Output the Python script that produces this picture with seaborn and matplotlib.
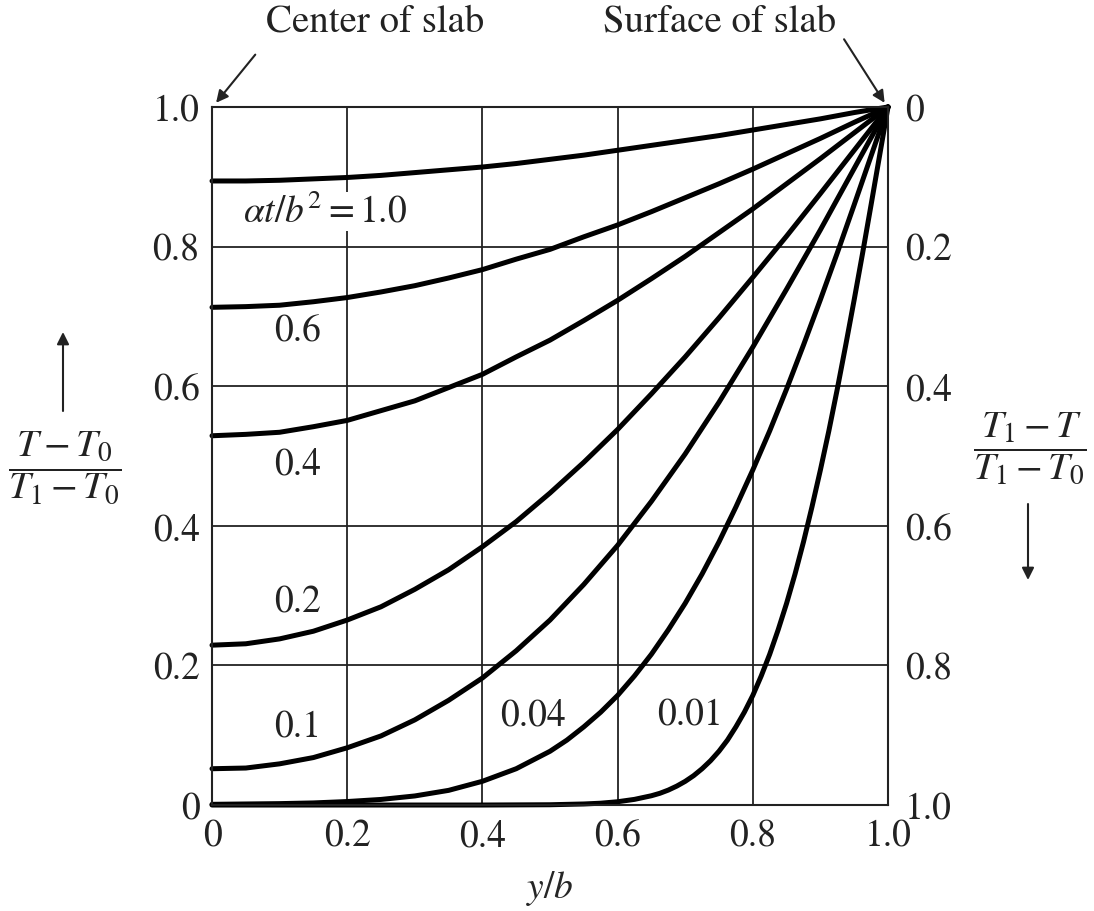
import numpy as np
import pandas as pd
import matplotlib
matplotlib.use("Agg")
import matplotlib.pyplot as plt
import seaborn as sns

# values: y/b positions and (T - T0)/(T1 - T0) for each alpha*t/b^2
eta = [0.0, 0.05, 0.1, 0.15, 0.2, 0.25, 0.3, 0.35, 0.4, 0.45, 0.5,
       0.55, 0.6, 0.65, 0.7, 0.75, 0.8, 0.85, 0.9, 0.95, 1.0]
theta_100 = [0.894, 0.894, 0.895, 0.897, 0.899, 0.902, 0.906, 0.910, 0.914, 0.919, 0.925,
             0.931, 0.938, 0.945, 0.952, 0.959, 0.967, 0.975, 0.983, 0.992, 1.0]
theta_060 = [0.713, 0.714, 0.716, 0.721, 0.727, 0.735, 0.744, 0.755, 0.767, 0.782, 0.796,
             0.814, 0.831, 0.850, 0.870, 0.890, 0.911, 0.933, 0.955, 0.978, 1.0]
theta_040 = [0.529, 0.531, 0.534, 0.542, 0.551, 0.565, 0.579, 0.598, 0.617, 0.642, 0.666,
             0.694, 0.723, 0.754, 0.786, 0.820, 0.854, 0.890, 0.926, 0.963, 1.0]
theta_020 = [0.229, 0.231, 0.238, 0.249, 0.265, 0.284, 0.309, 0.337, 0.370, 0.406, 0.447,
             0.491, 0.538, 0.589, 0.642, 0.698, 0.756, 0.815, 0.876, 0.938, 1.0]
theta_010 = [0.052, 0.053, 0.059, 0.068, 0.082, 0.099, 0.122, 0.150, 0.182, 0.221, 0.265,
             0.316, 0.372, 0.435, 0.503, 0.577, 0.656, 0.739, 0.824, 0.912, 1.0]

eta_004 = [0.0, 0.1, 0.15, 0.2, 0.25, 0.3, 0.35, 0.4, 0.45, 0.5, 0.525, 0.55, 0.575, 0.6,
           0.625, 0.65, 0.675, 0.7, 0.725, 0.75, 0.775, 0.8, 0.825, 0.85, 0.875, 0.9,
           0.925, 0.95, 0.975, 1.0]
theta_004 = [0.001, 0.002, 0.003, 0.005, 0.008, 0.013, 0.021, 0.034, 0.052, 0.077, 0.093,
             0.112, 0.133, 0.157, 0.185, 0.216, 0.251, 0.289, 0.331, 0.377, 0.427, 0.480,
             0.536, 0.596, 0.659, 0.724, 0.791, 0.860, 0.930, 1.0]

eta_001 = [0.0, 0.2, 0.4, 0.5, 0.55, 0.575, 0.6, 0.625, 0.65, 0.6625, 0.675, 0.6875, 0.7,
           0.7125, 0.725, 0.7375, 0.75, 0.7625, 0.775, 0.7875, 0.8, 0.8125, 0.825, 0.8375,
           0.85, 0.8625, 0.875, 0.8875, 0.9, 0.9125, 0.925, 0.9375, 0.95, 0.9625, 0.975, 1.0]
theta_001 = [0.0, 0.0, 0.0, 0.0004, 0.0015, 0.0026, 0.0047, 0.0081, 0.0133, 0.0168, 0.0214,
             0.0271, 0.0339, 0.0421, 0.052, 0.0635, 0.0771, 0.093, 0.112, 0.133, 0.157,
             0.185, 0.216, 0.251, 0.289, 0.331, 0.377, 0.427, 0.480, 0.536, 0.596, 0.659,
             0.724, 0.791, 0.860, 1.0]

curves = [
    ("1.0", eta, theta_100),
    ("0.6", eta, theta_060),
    ("0.4", eta, theta_040),
    ("0.2", eta, theta_020),
    ("0.1", eta, theta_010),
    ("0.04", eta_004, theta_004),
    ("0.01", eta_001, theta_001),
]

ticks = [0.0, 0.2, 0.4, 0.6, 0.8, 1.0]
tick_labels = ["0", "0.2", "0.4", "0.6", "0.8", "1.0"]

df = pd.concat(
    [pd.DataFrame({"eta": x, "theta": y, "tau": name}) for name, x, y in curves],
    ignore_index=True,
)

sns.set_style("white")
plt.rcParams["font.family"] = ["STIXGeneral", "DejaVu Serif"]
plt.rcParams["mathtext.fontset"] = "stix"

ink = "#222222"
fig = plt.figure(figsize=(10.94, 9.12), dpi=100)
ax = fig.add_axes([0.1938, 0.1162, 0.6179, 0.7654])

sns.lineplot(data=df, x="eta", y="theta", hue="tau", palette=["black"] * len(curves),
             linewidth=3.6, legend=False, ax=ax, sort=True)
for line in ax.lines:
    line.set_clip_on(False)
    line.set_solid_capstyle("round")
    line.set_solid_joinstyle("round")

ax.set_xlim(0, 1)
ax.set_ylim(0, 1)
ax.set_xticks(ticks)
ax.set_yticks(ticks)
ax.set_xticklabels(tick_labels)
ax.set_yticklabels(tick_labels)
ax.tick_params(axis="y", length=0, labelsize=27, colors=ink, pad=9)
ax.tick_params(axis="x", length=0, labelsize=27, colors=ink, pad=10)
ax.grid(True, color=ink, linewidth=1.3)
ax.set_axisbelow(True)
for s in ax.spines.values():
    s.set_color(ink)
    s.set_linewidth(1.5)
ax.set_xlabel("$y/b$", fontsize=27, labelpad=10)
ax.set_ylabel("")

ax2 = ax.twinx()
ax2.set_ylim(1, 0)
ax2.set_yticks(ticks)
ax2.set_yticklabels(tick_labels)
ax2.tick_params(length=0, labelsize=27, colors=ink, pad=12)
for s in ax2.spines.values():
    s.set_visible(False)

# curve labels
lbl = dict(fontsize=27, ha="center", va="center", color=ink,
           bbox=dict(facecolor="white", edgecolor="none", pad=1))
ax.text(0.167, 0.850, r"$\alpha t/b^2 = 1.0$", **lbl)
ax.text(0.127, 0.679, "0.6", **lbl)
ax.text(0.127, 0.489, "0.4", **lbl)
ax.text(0.127, 0.291, "0.2", **lbl)
ax.text(0.127, 0.112, "0.1", **lbl)
ax.text(0.475, 0.129, "0.04", **lbl)
ax.text(0.707, 0.129, "0.01", **lbl)

# top annotations
arrow = dict(arrowstyle="-|>", color=ink, lw=1.5, mutation_scale=18, shrinkA=0, shrinkB=0)
ax.text(0.241, 1.123, "Center of slab", fontsize=28, ha="center", va="center", color=ink)
ax.annotate("", xy=(0.006, 1.006), xytext=(0.064, 1.075), annotation_clip=False,
            arrowprops=arrow)
ax.text(0.751, 1.123, "Surface of slab", fontsize=28, ha="center", va="center", color=ink)
ax.annotate("", xy=(0.995, 1.006), xytext=(0.935, 1.097), annotation_clip=False,
            arrowprops=arrow)

# axis labels at the sides
fig.text(65 / 1094, 1 - 468 / 912, r"$\dfrac{T - T_0}{T_1 - T_0}$", fontsize=28,
         ha="center", va="center", color=ink)
fig.add_artist(matplotlib.patches.FancyArrowPatch(
    (63 / 1094, 1 - 412 / 912), (63 / 1094, 1 - 333 / 912), transform=fig.transFigure,
    arrowstyle="-|>", color=ink, lw=1.5, mutation_scale=18, shrinkA=0, shrinkB=0))
fig.text(1030 / 1094, 1 - 448 / 912, r"$\dfrac{T_1 - T}{T_1 - T_0}$", fontsize=28,
         ha="center", va="center", color=ink)
fig.add_artist(matplotlib.patches.FancyArrowPatch(
    (1028 / 1094, 1 - 505 / 912), (1028 / 1094, 1 - 581 / 912), transform=fig.transFigure,
    arrowstyle="-|>", color=ink, lw=1.5, mutation_scale=18, shrinkA=0, shrinkB=0))

fig.savefig("out.png", dpi=100, facecolor="white")
